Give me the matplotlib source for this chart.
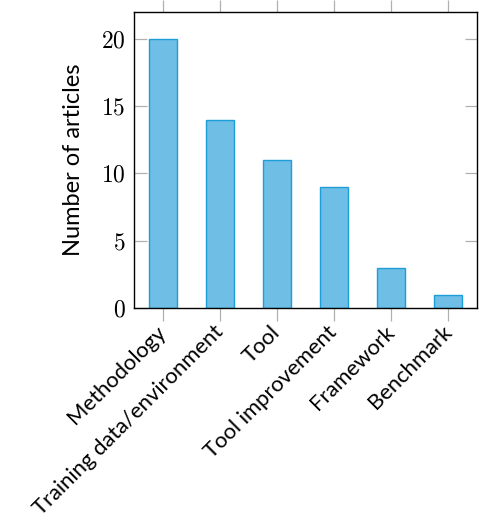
import matplotlib
matplotlib.use("Agg")
import matplotlib.pyplot as plt

categories = ["Methodology", "Training data/environment", "Tool",
              "Tool improvement", "Framework", "Benchmark"]
counts = [20, 14, 11, 9, 3, 1]
yticks = [0, 5, 10, 15, 20]

plt.rcParams['mathtext.fontset'] = 'cm'
plt.rcParams['font.family'] = ['Lato', 'DejaVu Sans']

fig = plt.figure(figsize=(4.79, 5.25), dpi=100)
ax = fig.add_axes([134/479, 1 - 308/525, 343/479, 296/525])

x = list(range(len(categories)))
ax.bar(x, counts, width=0.49, color='#6EBEE5', edgecolor='#1E9ED8', linewidth=1.0, zorder=2)

ax.set_xlim(-0.5, len(categories) - 0.5)
ax.set_ylim(0, 22)
ax.set_yticks(yticks)
ax.set_yticklabels([f'${v}$' for v in yticks], fontsize=17)
ax.set_xticks(x)
ax.set_xticklabels(categories, rotation=45, ha='right', va='center',
                   rotation_mode='anchor', fontsize=15.8)

ax.tick_params(axis='x', direction='out', length=9, color='#b0b0b0', width=0.9,
               top=True, bottom=True, pad=6)
ax.tick_params(axis='y', direction='in', length=9, color='#b0b0b0', width=0.9,
               left=True, right=True, pad=6)
for s in ax.spines.values():
    s.set_linewidth(1.0)
    s.set_color('black')

ax.set_ylabel('Number of articles', fontsize=17, labelpad=12)

fig.savefig('out.png', dpi=100)
